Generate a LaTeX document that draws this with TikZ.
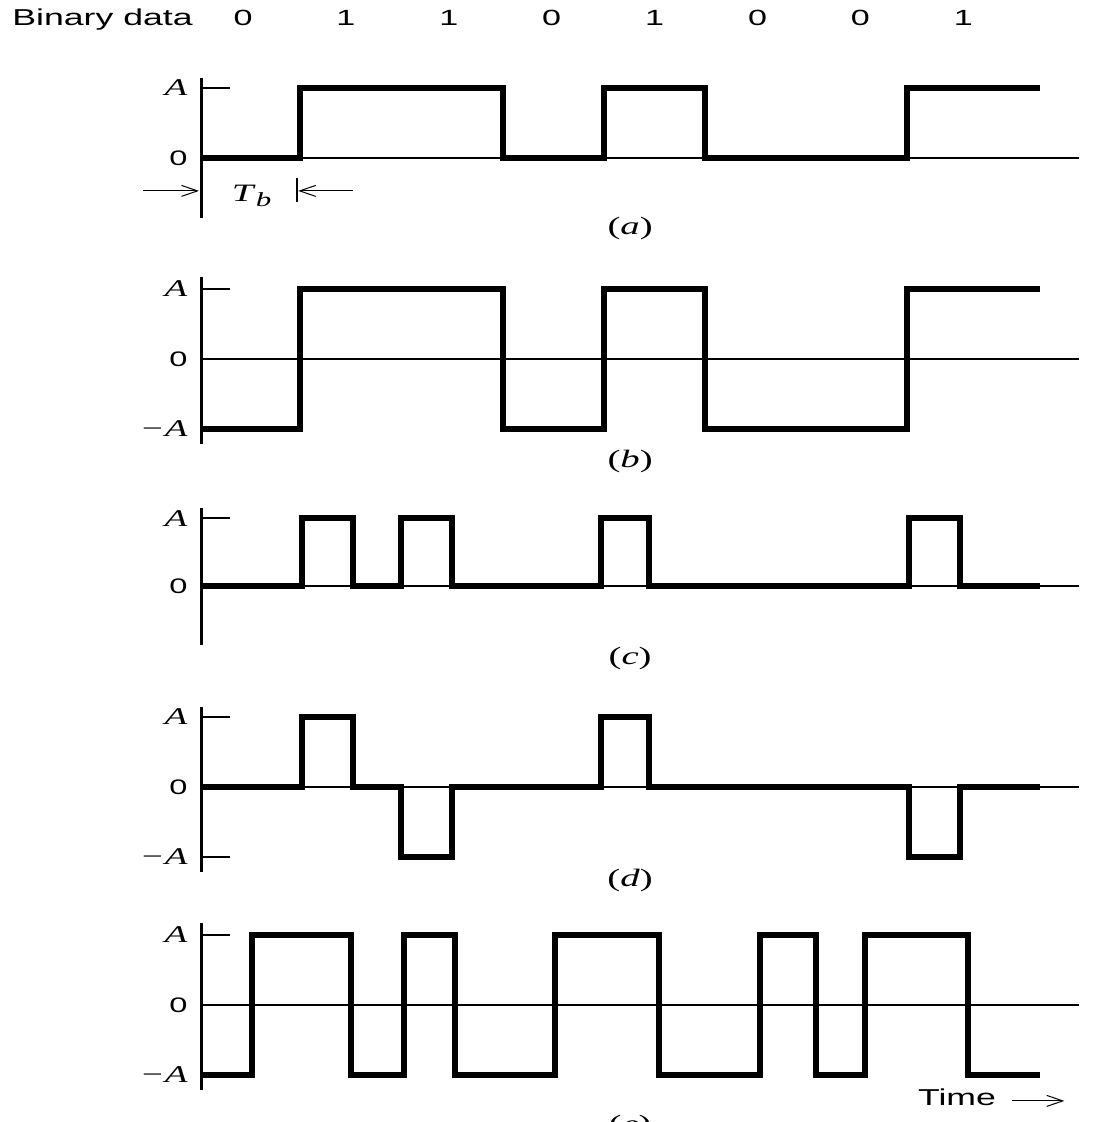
\documentclass[tikz,border=0pt]{standalone}
\usepackage{fontspec}
\setmainfont{Liberation Serif}[FakeStretch=1.55]
\setsansfont{Liberation Sans}[FakeStretch=1.55]
\usetikzlibrary{arrows.meta}

\begin{document}
\begin{tikzpicture}[
        x=0.5pt, y=-0.5pt,
        panel/.style={x=50.6pt, y=35pt},
        wave/.style={line width=3pt, line join=miter},
        yaxis/.style={line width=1.5pt},
        zeroline/.style={line width=0.9pt},
        tickline/.style={line width=0.8pt},
        lvl/.style={anchor=east, inner sep=0pt, font=\fontsize{12pt}{14pt}\selectfont\itshape},
        zerolbl/.style={anchor=east, inner sep=0pt, font=\fontsize{10.5pt}{12pt}\selectfont\sffamily},
        caption/.style={inner sep=0pt, font=\fontsize{12.5pt}{14pt}\selectfont},
        datalbl/.style={anchor=base, inner sep=0pt, font=\fontsize{11pt}{13pt}\selectfont\sffamily},
        barb/.style={-{Straight Barb[length=8pt,width=5.5pt]}, line width=0.5pt}
    ]
        \useasboundingbox (0,0) rectangle (1118,1122);
        \clip (0,0) rectangle (1118,1122);

        % Binary data
        \node[datalbl, anchor=base west, font=\fontsize{11.5pt}{13pt}\selectfont\sffamily] (bin) at (12,26) {Binary data};
        \foreach \b [count=\i from 0] in {0,1,1,0,1,0,0,1}
            \node[datalbl] (bit\i) at ({243+102.9*\i},26) {\b};

        % Waveform (a)
        \begin{scope}[shift={(199,158)}, panel]
            \draw[zeroline] (0.02,0) -- (8.7,0);
            \draw[yaxis] (0.02,1.14) -- (0.02,-0.86);
            \draw[tickline] (0.02,1) -- (0.31,1);
            \node[lvl] (a-A) at (-0.11,1) {A};
            \node[zerolbl] (a-0) at (-0.11,0) {0};
            \draw[wave] (0.02,0) -- (1,0) -- (1,1) -- (3,1) -- (3,0) -- (4,0) -- (4,1) -- (5,1) -- (5,0) -- (7,0) -- (7,1) -- (8.31,1);
            \coordinate (tb-ls) at (-0.55,-0.47);
            \coordinate (tb-le) at (0.0,-0.47);
            \coordinate (tb-rs) at (1.52,-0.47);
            \coordinate (tb-re) at (0.98,-0.47);
            \draw[tickline] (0.97,-0.29) -- (0.97,-0.63);
            \draw[barb] (tb-ls) -- (tb-le);
            \draw[barb] (tb-rs) -- (tb-re);
            \node[inner sep=0pt, font=\fontsize{12.5pt}{14pt}\selectfont] (tb) at (0.52,-0.54) {\textit{T}\raisebox{-0.45ex}{\fontsize{10pt}{11pt}\selectfont\textit{b}}};
            \node[caption] (cap-a) at (4.26,-1.0) {(\textit{a})};
        \end{scope}

        % Waveform (b)
        \begin{scope}[shift={(199,359)}, panel]
            \draw[zeroline] (0.02,0) -- (8.7,0);
            \draw[yaxis] (0.02,1.17) -- (0.02,-1.21);
            \draw[tickline] (0.02,1) -- (0.31,1);
            \node[lvl] (b-A) at (-0.11,1) {A};
            \node[zerolbl] (b-0) at (-0.11,0) {0};
            \node[lvl] (b-mA) at (-0.11,-1) {−A};
            \draw[wave] (0.02,-1) -- (1,-1) -- (1,1) -- (3,1) -- (3,-1) -- (4,-1) -- (4,1) -- (5,1) -- (5,-1) -- (7,-1) -- (7,1) -- (8.31,1);
            \node[caption] (cap-b) at (4.26,-1.47) {(\textit{b})};
        \end{scope}

        % Waveform (c)
        \begin{scope}[shift={(199,586)}, panel]
            \draw[zeroline] (0.02,0) -- (8.7,0);
            \draw[yaxis] (0.02,1.11) -- (0.02,-0.84);
            \draw[tickline] (0.02,0.97) -- (0.31,0.97);
            \node[lvl] (c-A) at (-0.11,0.97) {A};
            \node[zerolbl] (c-0) at (-0.11,0) {0};
            \draw[wave] (0.02,0) -- (1.02,0) -- (1.02,0.97) -- (1.52,0.97) -- (1.52,0) -- (2,0) -- (2,0.97) -- (2.5,0.97) -- (2.5,0) -- (3.97,0) -- (3.97,0.97) -- (4.45,0.97) -- (4.45,0) -- (7.02,0) -- (7.02,0.97) -- (7.52,0.97) -- (7.52,0) -- (8.31,0);
            \node[caption] (cap-c) at (4.26,-1.03) {(\textit{c})};
        \end{scope}

        % Waveform (d)
        \begin{scope}[shift={(199,787)}, panel]
            \draw[zeroline] (0.02,0) -- (8.7,0);
            \draw[yaxis] (0.02,1.14) -- (0.02,-1.21);
            \draw[tickline] (0.02,1) -- (0.31,1);
            \draw[tickline] (0.02,-1) -- (0.31,-1);
            \node[lvl] (d-A) at (-0.11,1) {A};
            \node[zerolbl] (d-0) at (-0.11,0) {0};
            \node[lvl] (d-mA) at (-0.11,-1) {−A};
            \draw[wave] (0.02,0) -- (1.02,0) -- (1.02,1) -- (1.52,1) -- (1.52,0) -- (2,0) -- (2,-1) -- (2.5,-1) -- (2.5,0) -- (3.97,0) -- (3.97,1) -- (4.45,1) -- (4.45,0) -- (7.02,0) -- (7.02,-1) -- (7.52,-1) -- (7.52,0) -- (8.31,0);
            \node[caption] (cap-d) at (4.26,-1.33) {(\textit{d})};
        \end{scope}

        % Waveform (e)
        \begin{scope}[shift={(199,1005)}, panel]
            \draw[zeroline] (0.02,0) -- (8.7,0);
            \draw[yaxis] (0.02,1.17) -- (0.02,-1.21);
            \draw[tickline] (0.02,1) -- (0.31,1);
            \node[lvl] (e-A) at (-0.11,1) {A};
            \node[zerolbl] (e-0) at (-0.11,0) {0};
            \node[lvl] (e-mA) at (-0.11,-1) {−A};
            \draw[wave] (0.02,-1) -- (0.52,-1) -- (0.52,1) -- (1.5,1) -- (1.5,-1) -- (2.03,-1) -- (2.03,1) -- (2.53,1) -- (2.53,-1) -- (3.52,-1) -- (3.52,1) -- (4.55,1) -- (4.55,-1) -- (5.54,-1) -- (5.54,1) -- (6.1,1) -- (6.1,-1) -- (6.58,-1) -- (6.58,1) -- (7.6,1) -- (7.6,-1) -- (8.31,-1);
            \node[caption] (cap-e) at (4.26,-1.74) {(\textit{e})};
            \node[inner sep=0pt, font=\fontsize{11.5pt}{13pt}\selectfont\sffamily] (time) at (7.49,-1.32) {Time};
            \coordinate (tm-s) at (8.03,-1.37);
            \coordinate (tm-e) at (8.55,-1.37);
            \draw[barb] (tm-s) -- (tm-e);
        \end{scope}
    \end{tikzpicture}
\end{document}
